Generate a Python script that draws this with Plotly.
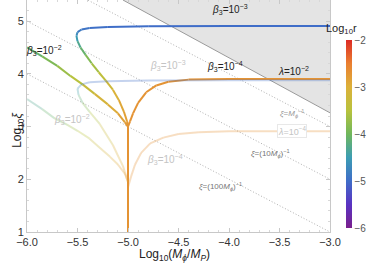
import plotly.graph_objects as go
import numpy as np

# ---------------- data ----------------
# solid curves: x = log10(M/MP), y = log10 xi, r = log10 r (colour)
a_x = [-3.0, -4.0, -4.8, -5.2, -5.38, -5.46, -5.50, -5.51, -5.50, -5.47, -5.42, -5.36, -5.29, -5.22, -5.15, -5.09, -5.04, -5.01, -5.0]
a_y = [4.905, 4.905, 4.90, 4.89, 4.87, 4.84, 4.79, 4.72, 4.62, 4.50, 4.36, 4.20, 4.03, 3.87, 3.70, 3.50, 3.28, 3.10, 3.0]
a_r = [-5.0, -5.0, -5.0, -4.98, -4.95, -4.9, -4.8, -4.6, -4.4, -4.2, -4.0, -3.75, -3.5, -3.3, -3.1, -2.95, -2.85, -2.8, -2.75]

b_x = [-6.0, -5.85, -5.7, -5.57, -5.45, -5.33, -5.2, -5.1, -5.03, -5.0]
b_y = [4.5, 4.33, 4.15, 3.96, 3.80, 3.62, 3.42, 3.25, 3.08, 3.0]
b_r = [-4.2, -4.0, -3.8, -3.6, -3.4, -3.2, -3.0, -2.9, -2.8, -2.75]

c_x = [-3.0, -4.0, -4.4, -4.6, -4.72, -4.82, -4.9, -4.95, -4.98, -5.0]
c_y = [3.90, 3.90, 3.89, 3.85, 3.78, 3.65, 3.45, 3.25, 3.1, 3.0]
c_r = [-2.7] * 10

stem_x = [-5.0, -5.0]
stem_y = [3.0, 1.0]
stem_r = [-2.7, -2.7]

# faded curves
e_x = [-3.0, -4.0, -4.8, -5.2, -5.38, -5.46, -5.50, -5.49, -5.45, -5.38, -5.28, -5.15, -5.05, -5.0]
e_y = [3.88, 3.88, 3.875, 3.86, 3.84, 3.80, 3.72, 3.60, 3.45, 3.28, 3.05, 2.65, 2.25, 1.95]
e_r = [-5.0, -5.0, -5.0, -5.0, -4.95, -4.85, -4.6, -4.3, -4.0, -3.7, -3.4, -3.1, -2.9, -2.8]

f_x = [-6.0, -5.85, -5.73, -5.6, -5.5, -5.38, -5.28, -5.18, -5.1, -5.03, -5.0]
f_y = [3.52, 3.33, 3.16, 3.03, 2.92, 2.77, 2.60, 2.43, 2.28, 2.10, 1.95]
f_r = [-4.4, -4.2, -4.0, -3.8, -3.6, -3.4, -3.2, -3.0, -2.9, -2.8, -2.75]

g_x = [-3.0, -4.0, -4.3, -4.5, -4.65, -4.78, -4.87, -4.93, -4.97, -5.0]
g_y = [2.91, 2.91, 2.89, 2.86, 2.79, 2.68, 2.50, 2.28, 2.05, 1.85]
g_r = [-2.7] * 10

# excluded region boundary
gray_x = [-5.05, -3.0]
gray_y = [5.4, 3.26]

# xi = (10^k M)^-1 lines : y = -x - k
xi_k = [0, 1, 2]

# ---------------- colour scale ----------------
cs = [[0.0, '#7a1f8c'], [0.125, '#5a33c2'], [0.25, '#3f6dc8'], [0.375, '#3c9db3'],
      [0.5, '#70b75c'], [0.625, '#b8c23d'], [0.75, '#dcb13a'], [0.875, '#ea7f30'], [1.0, '#dd2b25']]
cmin, cmax = -6.0, -2.0


def hex2rgb(h):
    h = h.lstrip('#')
    return [int(h[i:i + 2], 16) for i in (0, 2, 4)]


def color_at(v, alpha=1.0):
    t = (v - cmin) / (cmax - cmin)
    t = min(max(t, 0), 1)
    for i in range(len(cs) - 1):
        t0, c0 = cs[i]
        t1, c1 = cs[i + 1]
        if t0 <= t <= t1:
            f = (t - t0) / (t1 - t0)
            a, b = hex2rgb(c0), hex2rgb(c1)
            rgb = [round(a[j] + (b[j] - a[j]) * f) for j in range(3)]
            return f'rgba({rgb[0]},{rgb[1]},{rgb[2]},{alpha})'
    return cs[-1][1]


fig = go.Figure()

# grey excluded region
fig.add_trace(go.Scatter(x=gray_x + [gray_x[1], gray_x[0]], y=gray_y + [5.6, 5.6], fill='toself',
                         fillcolor='#e4e4e4', line=dict(width=0), mode='lines', hoverinfo='skip', showlegend=False))
fig.add_trace(go.Scatter(x=gray_x, y=gray_y, mode='lines', line=dict(color='#9a9a9a', width=1),
                         hoverinfo='skip', showlegend=False))

# dotted xi lines
for k in xi_k:
    fig.add_trace(go.Scatter(x=[-6.0, -3.0], y=[6.0 - k, 3.0 - k], mode='lines',
                             line=dict(color='#b0b0b0', width=1, dash='1px,2px'), hoverinfo='skip', showlegend=False))


def add_curve(xs, ys, rs, alpha=1.0, width=2):
    for i in range(len(xs) - 1):
        fig.add_trace(go.Scatter(x=[xs[i], xs[i + 1]], y=[ys[i], ys[i + 1]], mode='lines',
                                 line=dict(color=color_at((rs[i] + rs[i + 1]) / 2, alpha), width=width),
                                 hoverinfo='skip', showlegend=False))


for xs, ys, rs in [(a_x, a_y, a_r), (b_x, b_y, b_r), (c_x, c_y, c_r), (stem_x, stem_y, stem_r)]:
    add_curve(xs, ys, rs, 1.0)
for xs, ys, rs in [(e_x, e_y, e_r), (f_x, f_y, f_r), (g_x, g_y, g_r)]:
    add_curve(xs, ys, rs, 0.3)

# colourbar holder
fig.add_trace(go.Scatter(x=[-10], y=[0], mode='markers',
                         marker=dict(color=[-6], colorscale=cs, cmin=cmin, cmax=cmax, showscale=True,
                                     colorbar=dict(x=1.053, xanchor='left', xpad=0, ypad=0,
                                                   y=0.017, yanchor='bottom',
                                                   len=0.81, lenmode='fraction', thickness=6, outlinewidth=0,
                                                   tickvals=[-6, -5, -4, -3, -2],
                                                   ticktext=['−6', '−5', '−4', '−3', '−2'],
                                                   tickfont=dict(size=10, color='#555', family='Liberation Sans'),
                                                   ticks='')),
                         hoverinfo='skip', showlegend=False))

dark = '#222'
faded = '#c4c4c4'
anns = [
    ('<i>β</i><sub>3</sub>=10<sup>−3</sup>', -3.99, 5.22, dark, 10, None),
    ('<i>β</i><sub>3</sub>=10<sup>−2</sup>', -5.83, 4.44, dark, 10, None),
    ('<i>β</i><sub>3</sub>=10<sup>−4</sup>', -4.04, 4.13, dark, 10, None),
    ('<i>λ</i>=10<sup>−2</sup>', -3.36, 4.05, dark, 10, None),
    ('<i>β</i><sub>3</sub>=10<sup>−3</sup>', -4.6, 4.15, faded, 10, None),
    ('<i>β</i><sub>3</sub>=10<sup>−2</sup>', -5.55, 3.14, faded, 10, None),
    ('<i>β</i><sub>3</sub>=10<sup>−4</sup>', -4.63, 2.38, faded, 10, None),
    ('<i>λ</i>=10<sup>−4</sup>', -3.38, 2.92, faded, 9, 'white'),
    ('<i>ξ</i>=<i>M<sub>ϕ</sub></i><sup>−1</sup>', -3.38, 3.24, '#999', 8, None),
    ('<i>ξ</i>=(10<i>M<sub>ϕ</sub></i>)<sup>−1</sup>', -3.59, 2.48, '#777', 8, None),
    ('<i>ξ</i>=(100<i>M<sub>ϕ</sub></i>)<sup>−1</sup>', -4.08, 1.87, '#777', 8, None),
]
for text, x, y, col, size, bg in anns:
    d = dict(text=text, x=x, y=y, xref='x', yref='y', showarrow=False,
             font=dict(color=col, size=size, family='Liberation Sans'))
    if bg:
        d.update(bgcolor=bg, bordercolor='#e8e8e8', borderwidth=1, borderpad=0)
    fig.add_annotation(**d)

# axis titles and colourbar title
fig.add_annotation(text='Log<sub>10</sub>(<i>M<sub>ϕ</sub></i>/<i>M<sub>P</sub></i>)', x=0.488, y=-0.10,
                   xref='paper', yref='paper', showarrow=False, yanchor='middle',
                   font=dict(size=12, color='#222', family='Liberation Sans'))
fig.add_annotation(text='Log<sub>10</sub><i>ξ</i>', x=-0.063, y=0.44, xref='paper', yref='paper',
                   showarrow=False, textangle=-90, font=dict(size=12, color='#222', family='Liberation Sans'))
fig.add_annotation(text='Log<sub>10</sub>r', x=1.096, y=0.915, xref='paper', yref='paper',
                   showarrow=False, font=dict(size=11, color='#222', family='Liberation Sans'))

axis_common = dict(showgrid=False, zeroline=False, showline=True, linecolor='#c8c8c8', linewidth=1,
                   mirror='allticks', ticks='inside', ticklen=4, tickcolor='#c8c8c8',
                   tickfont=dict(size=11, color='#333', family='Liberation Sans'))
fig.update_layout(
    width=374, height=264, margin=dict(l=27, r=44, t=0, b=32, autoexpand=False),
    paper_bgcolor='white', plot_bgcolor='white',
    xaxis=dict(range=[-6, -3], tickvals=list(np.arange(-6, -2.99, 0.5)), tickformat='.1f',
               minor=dict(ticks='inside', ticklen=2, dtick=0.1, tickcolor='#d8d8d8'), **axis_common),
    yaxis=dict(range=[1, 5.4], tickvals=[1, 2, 3, 4, 5],
               minor=dict(ticks='inside', ticklen=2, dtick=0.2, tickcolor='#d8d8d8'), **axis_common),
)

fig.write_html('out.html', config={'displayModeBar': False},
               post_script="document.body.style.margin='0';document.body.style.overflow='hidden';")
